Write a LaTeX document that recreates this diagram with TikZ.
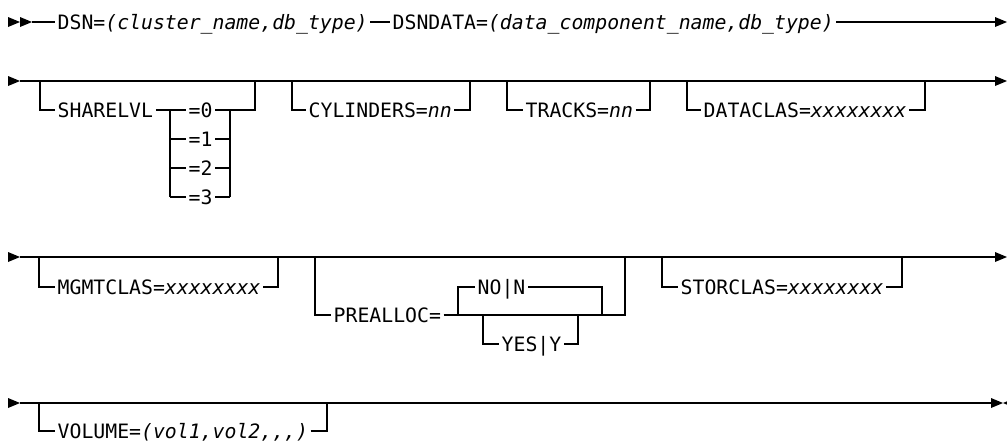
\documentclass[tikz,border=0pt]{standalone}
\usepackage{fontspec}
\setmonofont{DejaVu Sans Mono}
\tikzset{
  rail/.style={line width=0.7pt},
  kw/.style={inner xsep=1pt, inner ysep=0pt, text height=9.7pt, text depth=2.5pt,
    anchor=west, font=\ttfamily\fontsize{9.9}{12}\selectfont},
}
\newcommand\railtip[1]{\fill (#1) -- ++(-12,-5) -- ++(0,10) -- cycle;}
\newcommand\optbox[7]{% name, rail y, branch y, in x, text x, out x, text
  \coordinate (#1-in) at (#4,#2); \coordinate (#1-out) at (#6,#2);
  \node[kw] (#1) at (#5,#3) {#7};
  \draw (#1-in) |- (#1.west) (#1.east) -| (#1-out);}
\begin{document}
\begin{tikzpicture}[x=0.5pt,y=-0.5pt,rail]
\useasboundingbox (0,0) rectangle (1007,441);
\coordinate (s1) at (32,22); \coordinate (e1) at (995,22);
\railtip{20,22} \railtip{s1}
\node[kw] (dsn) at (55,22) {DSN=\itshape(cluster\_name,db\_type)};
\node[kw] (dsndata) at (390,22) {DSNDATA=\itshape(data\_component\_name,db\_type)};
\draw (s1) -- (dsn.west) (dsn.east) -- (dsndata.west) (dsndata.east) -- (e1);
\railtip{1007,22}

\coordinate (s2) at (20,81); \coordinate (e2) at (995,81);
\railtip{s2} \draw (s2) -- (e2); \railtip{1007,81}
\coordinate (sl-in) at (40,81); \coordinate (sl-out) at (255,81);
\node[kw] (sl) at (55,110) {SHARELVL};
\coordinate (sl-a) at (170,110); \coordinate (sl-b) at (230,110);
\draw (sl-in) |- (sl.west) (sl.east) -- (sl-a) (sl-b) -| (sl-out);
\foreach \v/\y in {0/110,1/139,2/168,3/197}{
  \node[kw] (lvl\v) at (186,\y) {=\v};
  \draw (sl-a |- lvl\v) -- (lvl\v.west) (lvl\v.east) -- (sl-b |- lvl\v);}
\draw (sl-a) -- (sl-a |- lvl3) (sl-b) -- (sl-b |- lvl3);
\optbox{cyl}{81}{110}{292}{306}{470}{CYLINDERS=\itshape nn}
\optbox{trk}{81}{110}{507}{523}{650}{TRACKS=\itshape nn}
\optbox{dcl}{81}{110}{687}{701}{925}{DATACLAS=\itshape xxxxxxxx}

\coordinate (s3) at (20,257); \coordinate (e3) at (995,257);
\railtip{s3} \draw (s3) -- (e3); \railtip{1007,257}
\optbox{mgm}{257}{287}{39}{55}{278}{MGMTCLAS=\itshape xxxxxxxx}
\optbox{pre}{257}{315}{315}{331}{625}{PREALLOC=}
\optbox{no}{315}{287}{458}{475}{602}{NO|N}
\optbox{yes}{315}{344}{483}{499}{578}{YES|Y}
\optbox{stc}{257}{287}{662}{678}{902}{STORCLAS=\itshape xxxxxxxx}

\coordinate (s4) at (20,403); \coordinate (e4) at (991,403);
\railtip{s4} \draw (s4) -- (e4); \railtip{1003,403}
\fill (1003,403) -- ++(12,-5) -- ++(0,10) -- cycle;
\optbox{vol}{403}{431}{39}{55}{327}{VOLUME=\itshape(vol1,vol2,,,)}
\end{tikzpicture}
\end{document}
